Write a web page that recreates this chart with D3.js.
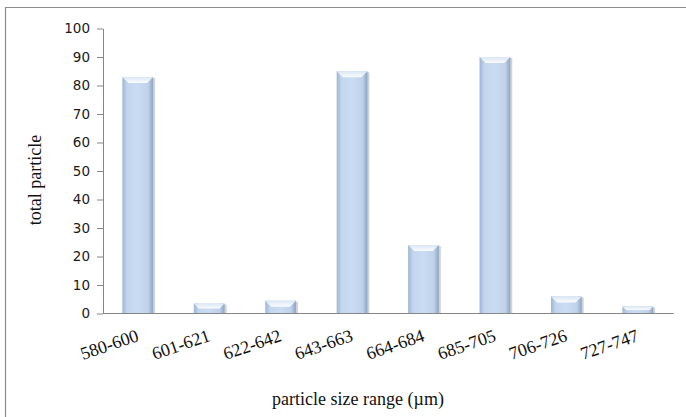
<!DOCTYPE html>
<html>
<head>
<meta charset="utf-8">
<script src="https://cdn.jsdelivr.net/npm/d3@7"></script>
<style>
  body { margin: 0; background: #fff; }
  svg { display: block; }
</style>
</head>
<body>
<div id="chart"></div>
<script>
// data
const categories = ["580-600", "601-621", "622-642", "643-663", "664-684", "685-705", "706-726", "727-747"];
const counts = [83, 3.5, 4.5, 85, 24, 90, 6, 2.5];
const yTicks = [0, 10, 20, 30, 40, 50, 60, 70, 80, 90, 100];

const W = 686, H = 417;
const plot = {left: 103, right: 673.5, top: 28.5, bottom: 313.5};

const svg = d3.select("#chart")
    .append("svg")
    .attr("width", W)
    .attr("height", H);

// gradients for the bevelled bars
const defs = svg.append("defs");
const body = defs.append("linearGradient").attr("id", "barBody")
    .attr("x1", "0%").attr("x2", "100%").attr("y1", "0%").attr("y2", "0%");
body.append("stop").attr("offset", "0%").attr("stop-color", "#9db6d5");
body.append("stop").attr("offset", "16%").attr("stop-color", "#c3d6ee");
body.append("stop").attr("offset", "50%").attr("stop-color", "#c9dcf2");
body.append("stop").attr("offset", "84%").attr("stop-color", "#bfd2ea");
body.append("stop").attr("offset", "100%").attr("stop-color", "#8aa5c6");
const cap = defs.append("linearGradient").attr("id", "barCap")
    .attr("x1", "0%").attr("x2", "0%").attr("y1", "0%").attr("y2", "100%");
cap.append("stop").attr("offset", "0%").attr("stop-color", "#dae6f4");
cap.append("stop").attr("offset", "100%").attr("stop-color", "#fbfcfe");

// outer frame (top and left only are visible)
svg.append("path")
    .attr("d", `M5.5,${H} V7.5 H${W}`)
    .attr("fill", "none")
    .attr("stroke", "#8c8c8c")
    .attr("stroke-width", 1.2);

const x = d3.scaleBand()
    .domain(categories)
    .range([plot.left - 1, plot.right])
    .paddingInner(0.57)
    .paddingOuter(0.285);

const y = d3.scaleLinear()
    .domain([0, 100])
    .range([plot.bottom, plot.top]);

// y axis
const yAxis = svg.append("g")
    .attr("transform", `translate(${plot.left},0)`)
    .call(d3.axisLeft(y).tickValues(yTicks).tickSize(6).tickSizeOuter(0).tickPadding(7));
yAxis.select(".domain").attr("stroke", "#868686");
yAxis.selectAll(".tick line").attr("stroke", "#868686");
yAxis.selectAll(".tick text")
    .attr("fill", "#1a1a1a")
    .style("font-family", "'DejaVu Sans', Verdana, sans-serif")
    .style("font-size", "13.5px");

// bars
const bevel = 6;
const bars = svg.append("g").selectAll("g.bar")
    .data(categories.map((c, i) => ({cat: c, v: counts[i]})))
    .join("g")
    .attr("class", "bar");

bars.append("rect")
    .attr("x", d => x(d.cat) + 2)
    .attr("y", d => y(d.v) + 1)
    .attr("width", x.bandwidth())
    .attr("height", d => y(0) - y(d.v) - 1)
    .attr("fill", "#7f7f7f")
    .attr("opacity", 0.35);

bars.append("rect")
    .attr("x", d => x(d.cat))
    .attr("y", d => y(d.v))
    .attr("width", x.bandwidth())
    .attr("height", d => y(0) - y(d.v))
    .attr("fill", "url(#barBody)");

bars.append("path")
    .attr("d", d => {
        const x0 = x(d.cat), x1 = x0 + x.bandwidth(), t = y(d.v);
        const b = Math.min(bevel, (y(0) - t) / 2);
        return `M${x0},${t} H${x1} L${x1 - b},${t + b} H${x0 + b} Z`;
    })
    .attr("fill", "url(#barCap)");

// x axis line
svg.append("line")
    .attr("x1", plot.left).attr("x2", plot.right)
    .attr("y1", y(0)).attr("y2", y(0))
    .attr("stroke", "#868686")
    .attr("stroke-width", 1.2);

// category labels, slanted
svg.append("g").selectAll("text")
    .data(categories)
    .join("text")
    .attr("transform", d => `translate(${x(d) + x.bandwidth() / 2 + 2},${plot.bottom + 27}) rotate(-19)`)
    .attr("text-anchor", "end")
    .attr("fill", "#111")
    .style("font-family", "'Liberation Serif', 'Times New Roman', serif")
    .style("font-size", "18px")
    .text(d => d);

// axis titles
svg.append("text")
    .attr("x", 358)
    .attr("y", 405)
    .attr("text-anchor", "middle")
    .attr("fill", "#111")
    .style("font-family", "'Liberation Serif', 'Times New Roman', serif")
    .style("font-size", "18px")
    .text("particle size range (µm)");

svg.append("text")
    .attr("transform", "translate(41,180) rotate(-90)")
    .attr("text-anchor", "middle")
    .attr("fill", "#111")
    .style("font-family", "'Liberation Serif', 'Times New Roman', serif")
    .style("font-size", "18px")
    .text("total particle");
</script>
</body>
</html>
